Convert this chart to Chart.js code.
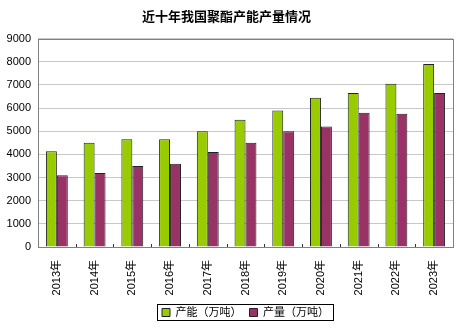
<!DOCTYPE html>
<html>
<head>
<meta charset="utf-8">
<script src="https://cdn.jsdelivr.net/npm/chart.js@4/dist/chart.umd.min.js"></script>
<style>
  html, body { margin: 0; padding: 0; background: #fff; }
  #wrap { width: 464px; height: 332px; }
</style>
</head>
<body>
<div id="wrap"><canvas id="polyester"></canvas></div>
<script>
'use strict';

// yearly capacity vs. output, 10k tonnes
const years = ['2013年', '2014年', '2015年', '2016年', '2017年', '2018年', '2019年', '2020年', '2021年', '2022年', '2023年'];
const capacity = [4130, 4500, 4650, 4650, 5000, 5500, 5900, 6450, 6650, 7050, 7900];
const output = [3100, 3200, 3500, 3600, 4100, 4500, 5000, 5200, 5800, 5750, 6650];
const yTicks = [0, 1000, 2000, 3000, 4000, 5000, 6000, 7000, 8000, 9000];

const cjk = '"Liberation Sans", "Noto Sans CJK SC", sans-serif';

// plot frame, small category marks on the baseline, box round the legend
const framePlugin = {
    id: 'frame',
    afterDatasetsDraw(chart) {
        const ctx = chart.ctx;
        const a = chart.chartArea;
        const x = chart.scales.x;
        ctx.save();
        ctx.strokeStyle = '#808080';
        ctx.lineWidth = 1;
        ctx.strokeRect(Math.round(a.left) + 0.5, Math.round(a.top) + 0.5,
            Math.round(a.right - a.left), Math.round(a.bottom - a.top));
        ctx.strokeStyle = '#333';
        for (let i = 1; i < years.length; i++) {
            const px = Math.round((x.getPixelForValue(i - 1) + x.getPixelForValue(i)) / 2) + 0.5;
            ctx.beginPath();
            ctx.moveTo(px, a.bottom);
            ctx.lineTo(px, a.bottom - 3);
            ctx.stroke();
        }
        ctx.restore();
    },
    afterDraw(chart) {
        const boxes = chart.legend.legendHitBoxes;
        if (!boxes || !boxes.length) return;
        const first = boxes[0];
        const last = boxes[boxes.length - 1];
        const ctx = chart.ctx;
        ctx.save();
        ctx.strokeStyle = '#000';
        ctx.lineWidth = 1;
        const l = Math.round(first.left) - 4.5;
        const t = Math.round(first.top) - 2.5;
        const r = Math.round(last.left + last.width) + 4.5;
        const b = Math.round(first.top + first.height) + 2.5;
        ctx.strokeRect(l, t, r - l, b - t);
        ctx.restore();
    }
};

const polyData = {
    labels: years,
    datasets: [
        {
            label: '产能（万吨）',
            data: capacity,
            backgroundColor: '#99cc00',
            borderColor: '#222',
            borderWidth: 1
        },
        {
            label: '产量（万吨）',
            data: output,
            backgroundColor: '#993366',
            borderColor: '#222',
            borderWidth: 1
        }
    ]
};

const polyConfig = {
    type: 'bar',
    data: polyData,
    options: {
        responsive: true,
        maintainAspectRatio: false,
        animation: false,
        layout: {
            padding: { left: 0, right: 11, top: 0, bottom: 4 }
        },
        datasets: {
            bar: {
                categoryPercentage: 0.58,
                barPercentage: 1
            }
        },
        scales: {
            x: {
                grid: { display: false },
                border: { display: false },
                ticks: {
                    color: '#000',
                    font: { family: cjk, size: 11 },
                    maxRotation: 90,
                    minRotation: 90,
                    padding: 5,
                    autoSkip: false
                },
                afterFit: scale => { scale.height = 52; }
            },
            y: {
                min: 0,
                max: 9000,
                afterBuildTicks: scale => {
                    scale.ticks = yTicks.map(v => ({ value: v }));
                },
                grid: {
                    color: '#c8c8c8',
                    drawTicks: false
                },
                border: { display: false },
                ticks: {
                    color: '#000',
                    font: { family: '"Liberation Sans", sans-serif', size: 11 },
                    padding: 7,
                    callback: value => String(value)
                },
                afterFit: scale => { scale.width = 38; }
            }
        },
        plugins: {
            title: {
                display: true,
                text: '近十年我国聚酯产能产量情况',
                color: '#000',
                font: { family: '"Noto Sans CJK SC", sans-serif', size: 13, weight: 'bold' },
                padding: { top: 8, bottom: 15 }
            },
            legend: {
                position: 'bottom',
                fullSize: false,
                labels: {
                    color: '#000',
                    font: { family: cjk, size: 11 },
                    boxWidth: 8,
                    boxHeight: 8,
                    padding: 8,
                    useBorderRadius: false
                }
            },
            tooltip: { enabled: false }
        }
    },
    plugins: [framePlugin]
};

new Chart(document.querySelector('#polyester'), polyConfig);
</script>
</body>
</html>
